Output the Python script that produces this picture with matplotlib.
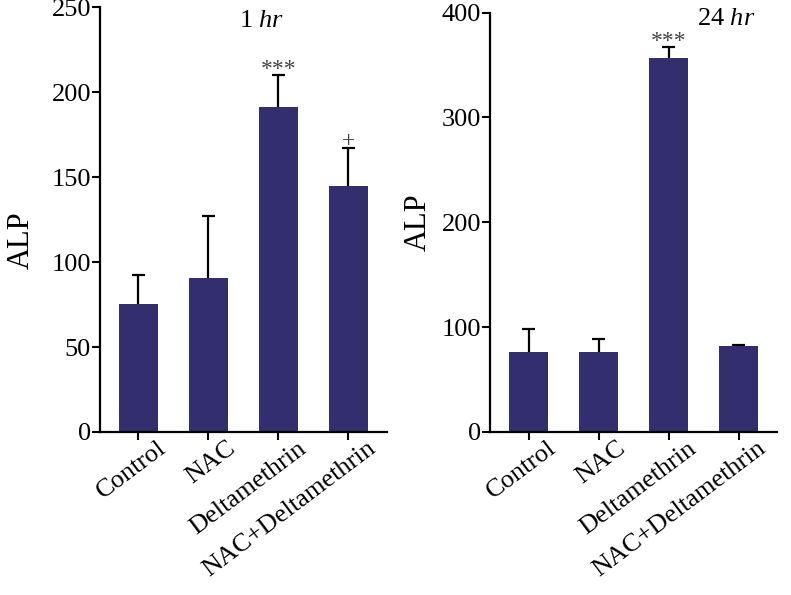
import numpy as np
import matplotlib.pyplot as plt
import matplotlib.transforms as mtransforms

plt.rcParams['font.family'] = ['Liberation Serif', 'DejaVu Serif']
plt.rcParams['mathtext.fontset'] = 'custom'
plt.rcParams['mathtext.rm'] = 'Liberation Serif'
plt.rcParams['mathtext.it'] = 'Liberation Serif:italic'

groups = ["Control", "NAC", "Deltamethrin", "NAC+Deltamethrin"]

alp_1h = [75.4, 90.6, 191.0, 144.7]
err_1h = [16.9, 36.2, 18.8, 22.3]
marks_1h = ["", "", "***", "+"]

alp_24h = [76.3, 76.3, 356.5, 81.7]
err_24h = [21.9, 12.3, 10.5, 1.5]
marks_24h = ["", "", "***", ""]

bar_color = '#332F6E'

fig = plt.figure(figsize=(7.91, 5.95), dpi=100)
ax1 = fig.add_axes([0.1264, 0.274, 0.3628, 0.714])
ax2 = fig.add_axes([0.6195, 0.274, 0.3628, 0.7047])


def panel(ax, vals, errs, marks, ymax, step, title, title_xy, label_xy):
    x = np.arange(len(groups))
    vals = np.array(vals)
    tops = vals + np.array(errs)
    ax.bar(x, vals, width=0.55, color=bar_color, zorder=2)
    ax.vlines(x, vals, tops, color='black', lw=1.6, zorder=1)
    ax.hlines(tops, x - 0.095, x + 0.095, color='black', lw=1.6, zorder=1)
    for xi, t, m in zip(x, tops, marks):
        if m:
            off = 0 if '*' in m else 1
            ax.annotate(m, (xi, t), xytext=(0, off), textcoords='offset points',
                        ha='center', va='baseline', fontsize=17, color='#444444')
    ax.set_xlim(-0.55, 3.55)
    ax.set_ylim(0, ymax)
    ax.set_yticks(np.arange(0, ymax + 1, step))
    ax.spines['top'].set_visible(False)
    ax.spines['right'].set_visible(False)
    ax.spines['left'].set_linewidth(1.6)
    ax.spines['bottom'].set_linewidth(1.6)
    ax.tick_params(axis='both', length=5.5, width=1.5, labelsize=19, pad=1)
    ax.set_xticks(x)
    ax.set_xticklabels(groups, rotation=37, ha='right', va='center',
                       rotation_mode='anchor')
    shift = mtransforms.ScaledTranslation(0.25, -0.05, fig.dpi_scale_trans)
    for lab in ax.get_xticklabels():
        lab.set_transform(lab.get_transform() + shift)
    ax.set_ylabel("ALP", fontsize=22)
    ax.yaxis.set_label_coords(*label_xy)
    ax.text(title_xy[0], title_xy[1], title, transform=ax.transAxes,
            ha='center', va='top', fontsize=19)


panel(ax1, alp_1h, err_1h, marks_1h, 250, 50, r"1 $\it{hr}$",
      (0.564, 0.993), (-0.225, 0.452))
panel(ax2, alp_24h, err_24h, marks_24h, 400, 100, r"24 $\it{hr}$",
      (0.822, 1.011), (-0.199, 0.501))

fig.savefig("out.png", dpi=100)
